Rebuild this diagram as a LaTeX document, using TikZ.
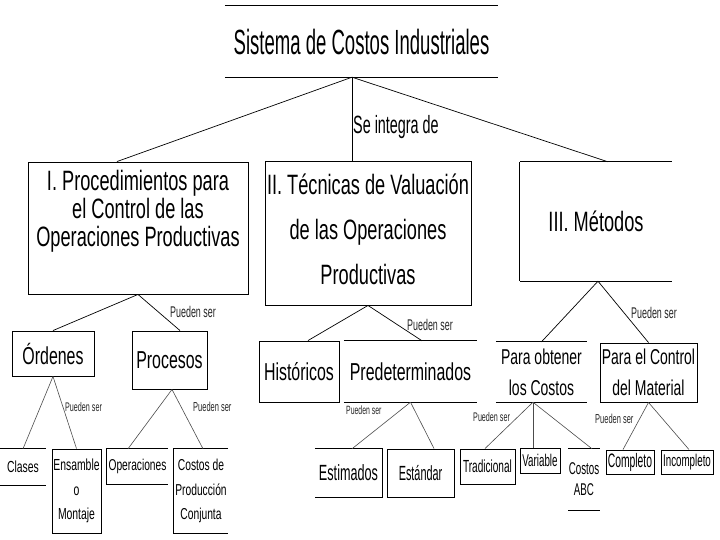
\documentclass[tikz,border=0pt]{standalone}
\usepackage{fontspec}
\setmainfont{Liberation Sans}[FakeStretch=0.65]
\newfontfamily\condA{Liberation Sans}[FakeStretch=0.53]
\newfontfamily\condB{Liberation Sans}[FakeStretch=0.575]
\newcommand\myfs[2]{\fontsize{#1}{#2}\selectfont}
\begin{document}
\begin{tikzpicture}[x=1pt,y=-1pt,
  frame/.style={draw=black, line width=0.9pt},
  cell/.style={inner sep=0pt, align=center, text=black},
  edge/.style={draw=black, line width=0.9pt},
  link/.style={draw=black, line width=0.7pt},
  sublink/.style={draw=black!70, line width=0.6pt},
  tag/.style={inner sep=0pt, anchor=west, text=black!85},
]
\useasboundingbox[fill=white] (0,0) rectangle (720,540);

% ---- level 0
\node[cell, minimum width=273pt, minimum height=71pt, font=\condA\myfs{35}{35}] (top) at (361.5,41.5) {Sistema de Costos Industriales};
\draw[edge] (top.north west) -- (top.north east);
\draw[edge] (top.south west) -- (top.south east);

% ---- level 1
\node[cell, frame, minimum width=220pt, minimum height=132pt] (b1) at (138,228) {};
\node[cell, font=\myfs{28}{28}] (b1t) at (138,211) {I. Procedimientos para\\el Control de las\\Operaciones Productivas};

\node[cell, frame, minimum width=206pt, minimum height=144pt] (b2) at (368,233) {};
\node[cell, font=\myfs{28}{45}] (b2t) at (368,229) {II. Técnicas de Valuación\\de las Operaciones\\Productivas};

\node[cell, minimum width=152pt, minimum height=119pt, font=\myfs{28}{28}] (b3) at (596,221.5) {III. Métodos};
\draw[edge] (b3.north west) -- (b3.north east);
\draw[edge] (b3.south west) -- (b3.south east);
\draw[edge] (b3.north west) -- (b3.south west);

% ---- level 2
\node[cell, frame, minimum width=82pt, minimum height=45pt, font=\myfs{24.5}{24.5}] (ord) at (53,353.5) {Órdenes};
\node[cell, frame, minimum width=75pt, minimum height=58pt, font=\myfs{24.5}{24.5}] (pro) at (169.5,360) {Procesos};
\node[cell, frame, minimum width=80pt, minimum height=61pt, font=\myfs{24.5}{24.5}] (his) at (299,371.5) {Históricos};
\node[cell, minimum width=133pt, minimum height=61pt, font=\myfs{24.5}{24.5}] (pre) at (410.5,371.5) {Predeterminados};
\draw[edge] (pre.north west) -- (pre.north east);
\draw[edge] (pre.south west) -- (pre.south east);
\node[cell, minimum width=91pt, minimum height=60pt, font=\myfs{21.5}{31}] (pob) at (541.5,372) {Para obtener\\los Costos};
\draw[edge] (pob.north west) -- (pob.north east);
\draw[edge] (pob.south west) -- (pob.south east);
\node[cell, frame, minimum width=97pt, minimum height=59pt, font=\myfs{21.5}{31}] (pco) at (648.5,372.5) {Para el Control\\del Material};

% ---- level 3
\node[cell, minimum width=46pt, minimum height=36pt, font=\myfs{16}{16}] (cla) at (23,467) {Clases};
\draw[edge] (cla.north west) -- (cla.north east);
\draw[edge] (cla.south west) -- (cla.south east);
\node[cell, frame, minimum width=49pt, minimum height=84pt, font=\myfs{16}{24.5}] (ens) at (76.5,491) {Ensamble\\o\\Montaje};
\node[cell, minimum width=61pt, minimum height=35pt, font=\myfs{15.7}{15.7}] (ope) at (137.5,466.5) {Operaciones};
\draw[edge] (ope.north east) -- (ope.north west) -- (ope.south west) -- (ope.south east);
\node[cell, minimum width=54pt, minimum height=84pt, font=\myfs{15.8}{24.5}] (cpc) at (201,491) {Costos de\\Producción\\Conjunta};
\draw[edge] (cpc.north east) -- (cpc.north west) -- (cpc.south west) -- (cpc.south east);
\node[cell, minimum width=67pt, minimum height=48pt, font=\condB\myfs{22}{22}] (est) at (348.5,473) {Estimados};
\draw[edge] (est.north west) -- (est.north east) -- (est.south east) -- (est.south west);
\node[cell, frame, minimum width=67pt, minimum height=48pt, font=\condA\myfs{20.5}{20.5}] (estd) at (420.5,473) {Estándar};
\node[cell, frame, minimum width=55pt, minimum height=35pt, font=\condB\myfs{17.5}{17.5}] (tra) at (487.5,466.5) {Tradicional};
\node[cell, frame, minimum width=40pt, minimum height=25pt, font=\condB\myfs{17}{17}] (var) at (540,460.5) {Variable};
\node[cell, minimum width=31pt, minimum height=61pt, font=\condB\myfs{17}{21}] (abc) at (584,479.5) {Costos\\ABC};
\draw[edge] (abc.north west) -- (abc.north east);
\draw[edge] (abc.south west) -- (abc.south east);
\node[cell, frame, minimum width=48pt, minimum height=24pt, font=\condA\myfs{19.5}{19.5}] (com) at (630,462) {Completo};
\node[cell, frame, minimum width=52pt, minimum height=24pt, font=\condB\myfs{17}{17}] (inc) at (687,462) {Incompleto};

% ---- connectors
\coordinate (j0) at ([xshift=-9.5pt]top.south);
\draw[link] (j0) -- ([xshift=-21pt]b1.north);
\draw[link] (j0) -- ([xshift=-16pt]b2.north);
\draw[link] (j0) -- ([xshift=12pt]b3.north);

\draw[link] (b1.south) -- (ord.north);
\draw[link] (b1.south) -- ([xshift=10.5pt]pro.north);

\draw[link] (b2.south) -- ([xshift=9pt]his.north);
\draw[link] (b2.south) -- ([xshift=11.5pt]pre.north);

\coordinate (j3) at ([xshift=2pt]b3.south);
\draw[link] (j3) -- (pob.north);
\draw[link] (j3) -- (pco.north);

\draw[sublink] (ord.south) -- (cla.north);
\draw[sublink] (ord.south) -- (ens.north);

\coordinate (jp) at ([xshift=2.5pt]pro.south);
\draw[sublink] (jp) -- ([xshift=-9.5pt]ope.north);
\draw[sublink] (jp) -- ([xshift=2pt]cpc.north);

\draw[sublink] (pre.south) -- ([xshift=3.5pt]est.north);
\draw[sublink] (pre.south) -- ([xshift=13.5pt]estd.north);

\coordinate (jo) at ([xshift=-8.5pt]pob.south);
\draw[sublink] (jo) -- ([xshift=-2.5pt]tra.north);
\draw[sublink] (jo) -- ([xshift=-7pt]var.north);
\draw[sublink] (jo) -- ([xshift=8pt]abc.north);

\draw[sublink] (pco.south) -- ([xshift=-7pt]com.north);
\draw[sublink] (pco.south) -- ([xshift=2pt]inc.north);

% ---- labels
\node[tag, font=\condB\myfs{25}{25}, text=black] (lse) at (353,127) {Se integra de};
\node[tag, font=\condB\myfs{15.5}{15.5}] (l1) at (170,312) {Pueden ser};
\node[tag, font=\condB\myfs{15.5}{15.5}] (l2) at (407,325) {Pueden ser};
\node[tag, font=\condB\myfs{15.5}{15.5}] (l3) at (631,313) {Pueden ser};
\node[tag, font=\condB\myfs{12.5}{12.5}] (l4) at (65,407) {Pueden ser};
\node[tag, font=\condB\myfs{13}{13}] (l5) at (193,407) {Pueden ser};
\node[tag, font=\condB\myfs{12}{12}] (l6) at (346,410) {Pueden ser};
\node[tag, font=\condB\myfs{12.5}{12.5}] (l7) at (473,417) {Pueden ser};
\node[tag, font=\condB\myfs{13}{13}] (l8) at (595,419) {Pueden ser};
\end{tikzpicture}
\end{document}
